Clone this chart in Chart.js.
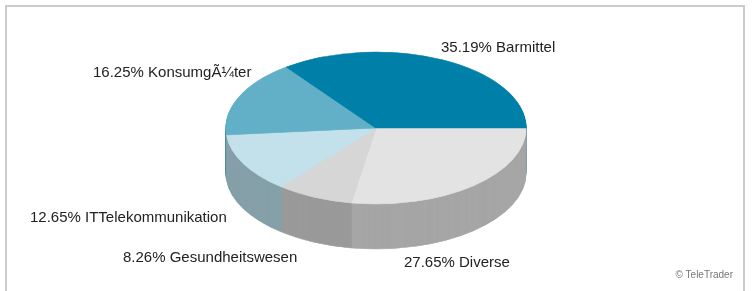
<!DOCTYPE html>
<html>
<head>
<meta charset="utf-8">
<script src="https://cdn.jsdelivr.net/npm/chart.js@4"></script>
<style>
  html, body { margin: 0; padding: 0; background: #fff; overflow: hidden; }
  #wrap { position: relative; width: 754px; height: 291px; }
  #frame { position: absolute; left: 5px; top: 5px; width: 740px; height: 300px;
           border: 2px solid #cbcbcb; border-bottom: none; box-sizing: border-box; }
</style>
</head>
<body>
<div id="wrap">
  <div id="frame"></div>
  <canvas id="pieChart" width="754" height="291"></canvas>
</div>
<script>
// drawing order: clockwise from the east point
const categories = ['Diverse', 'Gesundheitswesen', 'ITTelekommunikation', 'Konsumg\u00C3\u00BCter', 'Barmittel'];
const shares = [27.65, 8.26, 12.65, 16.25, 35.19];
const topColors = ['#e3e3e3', '#d6d6d6', '#c2e1ea', '#62b0c8', '#0080a8'];
const sideColors = ['#a6a6a6', '#9a9a9a', '#86a0a9', '#4d8ea2', '#006b8c'];

// where the 3d disc sits on the page
const PIE = { cx: 376, cy: 128, rx: 150, ry: 76, depth: 45 };

// label anchors: [x, y, align]
const labelPos = [
  [404, 263, 'left'],
  [123, 258, 'left'],
  [30, 218, 'left'],
  [93, 73, 'left'],
  [441, 48, 'left']
];

const pie3d = {
  id: 'pie3d',
  beforeDatasetsDraw(chart) {
    const ctx = chart.ctx;
    const arcs = chart.getDatasetMeta(0).data;
    const r = arcs[0].outerRadius;
    const place = (dy) => {
      ctx.translate(PIE.cx, PIE.cy + dy);
      ctx.scale(PIE.rx / r, PIE.ry / r);
      ctx.translate(-arcs[0].x, -arcs[0].y);
    };
    // side wall: stack darker copies of the slices downwards
    for (let d = PIE.depth; d > 0; d--) {
      ctx.save();
      place(d);
      arcs.forEach((arc, i) => {
        const side = Object.create(arc);
        side.options = Object.assign({}, arc.options, {
          backgroundColor: sideColors[i],
          borderColor: sideColors[i]
        });
        side.draw(ctx);
      });
      ctx.restore();
    }
    // top face is the normal dataset draw, squashed
    ctx.save();
    place(0);
  },
  afterDatasetsDraw(chart) {
    chart.ctx.restore();
  },
  afterDraw(chart) {
    const ctx = chart.ctx;
    ctx.save();
    ctx.font = '15px "Liberation Sans", Arial, sans-serif';
    ctx.fillStyle = '#222';
    ctx.textBaseline = 'middle';
    categories.forEach((c, i) => {
      const [x, y, align] = labelPos[i];
      ctx.textAlign = align;
      ctx.fillText(shares[i].toFixed(2) + '% ' + c, x, y);
    });
    ctx.font = '10px "Liberation Sans", Arial, sans-serif';
    ctx.fillStyle = '#777';
    ctx.textAlign = 'right';
    ctx.fillText('\u00A9 TeleTrader', 733, 275);
    ctx.restore();
  }
};

new Chart(document.getElementById('pieChart'), {
  type: 'pie',
  data: {
    labels: categories,
    datasets: [{
      data: shares,
      backgroundColor: topColors,
      borderColor: topColors,
      borderWidth: 1,
      clip: false
    }]
  },
  options: {
    responsive: false,
    animation: false,
    events: [],
    rotation: 90,
    layout: { padding: 0 },
    plugins: { legend: { display: false }, tooltip: { enabled: false } }
  },
  plugins: [pie3d]
});
</script>
</body>
</html>
